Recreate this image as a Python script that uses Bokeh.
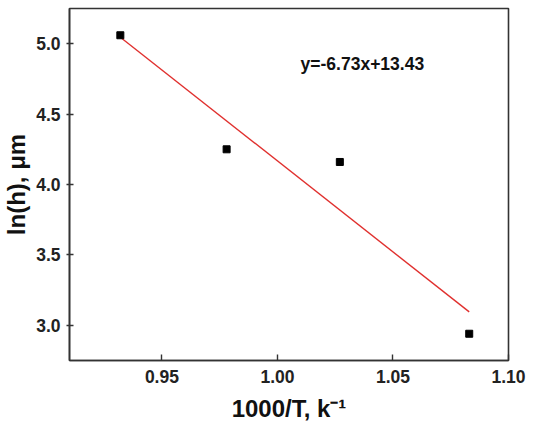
from bokeh.plotting import figure
from bokeh.models import Label, Range1d, FixedTicker
from bokeh.embed import file_html
from bokeh.resources import INLINE

x_vals = [0.932, 0.978, 1.027, 1.083]
y_vals = [5.06, 4.25, 4.16, 2.94]
fit_x = [0.932, 1.083]
fit_y = [5.046, 3.095]
x_ticks = [0.95, 1.00, 1.05, 1.10]
y_ticks = [3.0, 3.5, 4.0, 4.5, 5.0]
equation = "y=-6.73x+13.43"

FONT = "Liberation Sans"

p = figure(width=534, height=431, output_backend="svg", toolbar_location=None,
           x_range=Range1d(0.910, 1.100), y_range=Range1d(2.75, 5.25),
           min_border_left=69, min_border_right=26, min_border_top=8, min_border_bottom=71)
p.grid.visible = False
p.outline_line_color = "#333333"
p.outline_line_width = 1.6
p.background_fill_color = "white"
p.border_fill_color = "white"

p.line(fit_x, fit_y, line_color="#e0302e", line_width=1.4)
p.scatter(x_vals, y_vals, marker="square", size=7, fill_color="black", line_color="black")

p.add_layout(Label(x=1.010, y=4.856, text=equation, text_font=FONT, text_font_style="bold",
                   text_font_size="17.5px", text_color="#111111", text_align="left", text_baseline="middle"))

for ax in (p.xaxis[0], p.yaxis[0]):
    ax.axis_line_color = "#333333"
    ax.axis_line_width = 1.6
    ax.major_tick_line_color = "#333333"
    ax.major_tick_line_width = 1.4
    ax.minor_tick_line_color = None
    ax.major_label_text_font = FONT
    ax.major_label_text_font_style = "bold"
    ax.major_label_text_font_size = "17.5px"
    ax.major_label_text_color = "#222222"
    ax.axis_label_text_font = FONT
    ax.axis_label_text_font_style = "bold"
    ax.axis_label_text_font_size = "24px"
    ax.axis_label_text_color = "#111111"

p.xaxis.ticker = FixedTicker(ticks=x_ticks)
p.yaxis.ticker = FixedTicker(ticks=y_ticks)
p.xaxis.major_label_overrides = {t: f"{t:.2f}" for t in x_ticks}
p.yaxis.major_label_overrides = {t: f"{t:.1f}" for t in y_ticks}
p.xaxis.major_tick_in = 6
p.xaxis.major_tick_out = 0
p.yaxis.major_tick_in = 4
p.yaxis.major_tick_out = 3
p.xaxis.major_label_standoff = 9
p.yaxis.major_label_standoff = 6
p.xaxis.axis_label = "1000/T, k\u207b\u00b9"
p.yaxis.axis_label = "ln(h), \u03bcm"
p.xaxis.axis_label_standoff = 9
p.yaxis.axis_label_standoff = 3

open("out.html", "w").write(file_html(p, INLINE))
